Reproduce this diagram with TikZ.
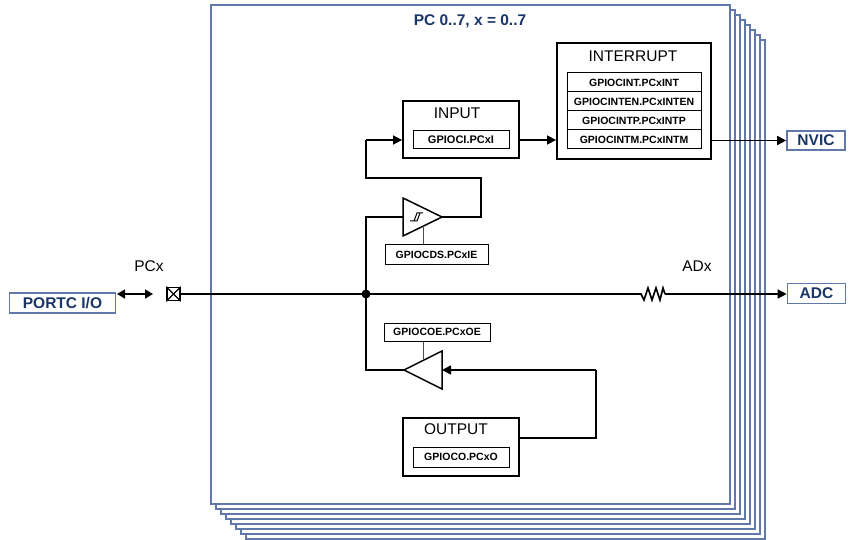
\documentclass[tikz,border=0pt]{standalone}
\usepackage{fontspec}
\setmainfont{Liberation Sans}
\usetikzlibrary{arrows.meta}
\definecolor{frameblue}{RGB}{96,121,170}
\definecolor{navy}{RGB}{26,54,104}
\begin{document}
\begin{tikzpicture}[x=1pt,y=-1pt,
  frame/.style={draw=frameblue, line width=1.3pt},
  wire/.style={line width=1.6pt, line join=miter},
  thinwire/.style={line width=0.8pt, black!70},
  arr/.style={-{Triangle[length=9pt,width=9pt]}},
  blockbox/.style={draw, line width=1.8pt, inner sep=0pt, fill=white},
  regbox/.style={draw, line width=1pt, inner sep=0pt, fill=white, font=\fontsize{10.5}{12}\selectfont\bfseries},
  biglabel/.style={font=\fontsize{15.5}{18}\selectfont, inner sep=0pt},
  portbox/.style={draw=frameblue, line width=1.6pt, inner sep=0pt, fill=white, text=navy, font=\fontsize{15.5}{18}\selectfont\bfseries},
  buffer/.style={line width=1.5pt, fill=white, line join=miter}
]
\useasboundingbox (0,0) rectangle (849,540);
% stacked frames
\foreach \k in {7,6,...,1} {
  \draw[frame, fill=white] ({211+5*\k},{5+5*\k}) rectangle ({730+5*\k},{504+5*\k});
}
\draw[frame, fill=white] (211,5) rectangle (730,504);
\node[font=\fontsize{15.5}{18}\selectfont\bfseries, text=navy] (title) at (470,21) {PC 0..7, x = 0..7};

% external boxes
\node[portbox, minimum width=106pt, minimum height=20pt] (portc) at (62.5,303) {PORTC I/O};
\node[portbox, minimum width=58pt, minimum height=19pt] (nvic) at (816,140.5) {NVIC};
\node[portbox, minimum width=58pt, minimum height=20pt] (adc) at (816.5,293.5) {ADC};

% pad
\node[draw, line width=1.6pt, minimum size=13pt, inner sep=0pt] (pad) at (173.5,294) {};
\draw[line width=1.1pt] (pad.north west) -- (pad.south east) (pad.north east) -- (pad.south west);
\node[biglabel] (pcx) at (149,266) {PCx};
\node[biglabel] (adx) at (697,266) {ADx};

% INPUT block
\node[blockbox, minimum width=116pt, minimum height=57pt] (inbox) at (461,129.5) {};
\node[biglabel] (inlab) at (457,113) {INPUT};
\node[regbox, minimum width=96pt, minimum height=18pt, font=\fontsize{11}{12}\selectfont\bfseries] (inreg) at (461,140) {GPIOCI.PCxI};

% INTERRUPT block
\node[blockbox, minimum width=154pt, minimum height=116pt] (intbox) at (634,101) {};
\node[biglabel] (intlab) at (633,56) {INTERRUPT};
\node[regbox, minimum width=134pt, minimum height=19pt] (r1) at (634,82.5) {GPIOCINT.PCxINT};
\node[regbox, minimum width=134pt, minimum height=19pt] (r2) at (634,101.5) {GPIOCINTEN.PCxINTEN};
\node[regbox, minimum width=134pt, minimum height=19pt] (r3) at (634,120.5) {GPIOCINTP.PCxINTP};
\node[regbox, minimum width=134pt, minimum height=19pt] (r4) at (634,139.5) {GPIOCINTM.PCxINTM};

% OUTPUT block
\node[blockbox, minimum width=116pt, minimum height=58pt] (outbox) at (461,447) {};
\node[biglabel] (outlab) at (456,429) {OUTPUT};
\node[regbox, minimum width=96pt, minimum height=20pt] (outreg) at (461,457) {GPIOCO.PCxO};

% control registers
\node[regbox, minimum width=103pt, minimum height=20pt] (cds) at (436.5,255) {GPIOCDS.PCxIE};
\node[regbox, minimum width=106pt, minimum height=18pt] (coe) at (437,332) {GPIOCOE.PCxOE};

% coordinates
\coordinate (junc) at (366,294);
\coordinate (sA) at (403,198);
\coordinate (sB) at (403,236);
\coordinate (sT) at (442,217);
\coordinate (sIn) at (403,217);
\coordinate (sBot) at (423,226);
\coordinate (oA) at (442,351);
\coordinate (oB) at (442,389);
\coordinate (oT) at (404,370);
\coordinate (oBack) at (442,370);
\coordinate (oTop) at (423,360);
\coordinate (rL) at (641,294);
\coordinate (rR) at (665,294);
\coordinate (da1) at (117,294);
\coordinate (da2) at (153,294);
\coordinate (fb1) at (481,178);
\coordinate (oc1) at (596,438);

% main line
\draw[wire] (pad.east) -- (junc) -- (rL) -- (644,300) -- (648,288) -- (652,300) -- (656,288) -- (660,300) -- (663,288) -- (rR);
\draw[wire, arr] (rR) -- (adc.west |- rR);
\draw[wire, {Triangle[length=8pt,width=9pt]}-{Triangle[length=8pt,width=9pt]}] (da1) -- (da2);

% input path
\draw[wire] (junc) -- (junc |- sIn) -- (sIn);
\draw[wire] (sT) -- (fb1 |- sT) -- (fb1) -- (junc |- fb1) -- (junc |- inreg);
\draw[wire, arr] (junc |- inreg) -- (inbox.west |- inreg);
\draw[wire, arr] (inbox.east |- inreg) -- (intbox.west |- inreg);
\draw[wire, arr] (intbox.east |- nvic) -- (nvic.west);

% output path
\draw[wire] (junc) -- (junc |- oT) -- (oT);
\draw[wire] (outbox.east |- oc1) -- (oc1) -- (oc1 |- oBack);
\draw[wire, arr] (oc1 |- oBack) -- (oBack);

% buffers
\draw[buffer] (sA) -- (sT) -- (sB) -- cycle;
\draw[line width=1pt] (410,221) -- (417,221) -- (420,213);
\draw[line width=1pt] (414,221) -- (417,213) -- (423,213);
\draw[buffer] (oA) -- (oT) -- (oB) -- cycle;

% enable connections
\draw[thinwire] (sBot) -- (sBot |- cds.north);
\draw[thinwire] (oTop) -- (oTop |- coe.south);

% junction dot
\node[circle, fill, inner sep=0pt, minimum size=9pt] (jdot) at (junc) {};
\end{tikzpicture}
\end{document}
